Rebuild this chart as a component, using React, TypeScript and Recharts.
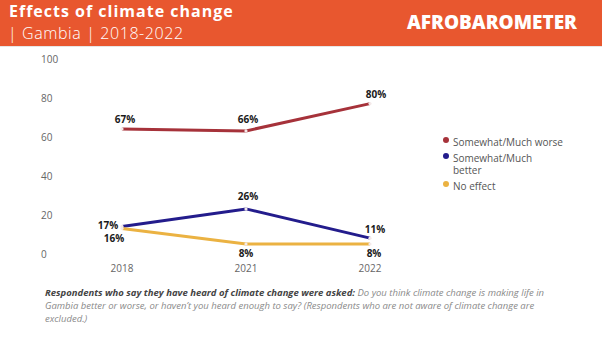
import { LineChart, Line, XAxis, YAxis, Legend, LabelList } from 'recharts';

const years = ['2018', '2021', '2022'];
const worse = [67, 66, 80];
const better = [17, 26, 11];
const noEffect = [16, 8, 8];
const yTicks = [0, 20, 40, 60, 80, 100];

const SERIES = [
  { key: 'worse', name: 'Somewhat/Much worse', color: '#A6323A', values: worse },
  { key: 'better', name: 'Somewhat/Much better', color: '#231C8C', values: better },
  { key: 'noEffect', name: 'No effect', color: '#EBB242', values: noEffect },
];

// label nudges per point (dx, dy) relative to the dot
const LABEL_NUDGE: Record<string, [number, number][]> = {
  worse: [[3, -9], [2, -11], [6, -9]],
  better: [[-14, -1], [2, -12], [5, -9]],
  noEffect: [[-8, 10], [0, 9], [4, 9]],
};

// legend text box width per entry (the "better" entry wraps in the original)
const LEGEND_TEXT_WIDTH: Record<string, number> = { worse: 130, better: 90, noEffect: 130 };

const FONT = "'Open Sans', 'DejaVu Sans', sans-serif";

const chartData = years.map((year, i) => {
  const row: Record<string, string | number> = { year };
  SERIES.forEach((s) => {
    row[s.key] = s.values[i];
  });
  return row;
});

function YTick({ y, payload }: any) {
  return (
    <text x={41} y={y - 5} dy="0.35em" textAnchor="start" fontSize={10} fill="#666" fontFamily={FONT}>
      {payload.value}
    </text>
  );
}

function XTick({ x, payload }: any) {
  return (
    <text x={x} y={268} dy="0.35em" textAnchor="middle" fontSize={10} fill="#666" fontFamily={FONT}>
      {payload.value}
    </text>
  );
}

function makeLabel(seriesKey: string) {
  return function PointLabel(props: any) {
    const { x, y, value, index } = props;
    const [dx, dy] = LABEL_NUDGE[seriesKey][index] ?? [0, -10];
    return (
      <text
        x={x + dx}
        y={y + dy}
        dy="0.35em"
        textAnchor="middle"
        fontSize={10}
        fontWeight={700}
        fill="#1a1a1a"
        fontFamily={FONT}
      >
        {`${value}%`}
      </text>
    );
  };
}

function LegendBox() {
  return (
    <div style={{ fontFamily: FONT, fontSize: 10, color: '#555', width: 150 }}>
      {SERIES.map((s) => (
        <div key={s.key} style={{ display: 'flex', alignItems: 'flex-start', marginBottom: 4, lineHeight: '12px' }}>
          <span
            style={{
              width: 6,
              height: 6,
              borderRadius: 3,
              background: s.color,
              marginTop: 1,
              marginRight: 4,
              flexShrink: 0,
            }}
          />
          <span style={{ width: LEGEND_TEXT_WIDTH[s.key] }}>{s.name}</span>
        </div>
      ))}
    </div>
  );
}

export default function App() {
  return (
    <div
      style={{
        position: 'absolute',
        top: 0,
        left: 0,
        width: 602,
        height: 339,
        background: '#fff',
        overflow: 'hidden',
        fontFamily: FONT,
      }}
    >
      <div
        style={{
          position: 'absolute',
          top: 0,
          left: 0,
          width: 602,
          height: 46,
          background: '#E8572F',
          borderBottom: '1px solid #e6e6e6',
        }}
      >
        <div
          style={{
            position: 'absolute',
            left: 9,
            top: 0,
            color: '#fff',
            fontSize: 16,
            fontWeight: 700,
            lineHeight: '22px',
            letterSpacing: 1,
          }}
        >
          Effects of climate change
        </div>
        <div
          style={{
            position: 'absolute',
            left: 8,
            top: 22,
            color: '#fff',
            fontSize: 16,
            fontWeight: 300,
            lineHeight: '22px',
            letterSpacing: 0.6,
          }}
        >
          | Gambia | 2018-2022
        </div>
        <div
          style={{
            position: 'absolute',
            left: 407,
            top: 11,
            color: '#fff',
            fontSize: 19,
            fontWeight: 800,
            lineHeight: '22px',
          }}
        >
          AFROBAROMETER
        </div>
      </div>

      <div style={{ position: 'absolute', top: 0, left: 0 }}>
        <LineChart
          width={602}
          height={280}
          data={chartData}
          margin={{ top: 64.6, right: 210, bottom: 0.4, left: 40 }}
        >
          <XAxis
            dataKey="year"
            axisLine={false}
            tickLine={false}
            tick={<XTick />}
            padding={{ left: 22, right: 22 }}
            height={20}
          />
          <YAxis
            domain={[0, 100]}
            ticks={yTicks}
            axisLine={false}
            tickLine={false}
            tick={<YTick />}
            width={60}
          />
          <Legend
            layout="vertical"
            align="center"
            verticalAlign="middle"
            content={<LegendBox />}
            wrapperStyle={{ left: 443, top: 136, width: 150, height: 70 }}
          />
          {SERIES.map((s) => (
            <Line
              key={s.key}
              type="linear"
              dataKey={s.key}
              name={s.name}
              stroke={s.color}
              strokeWidth={3}
              dot={{ r: 1.6, fill: '#f3e9e9', stroke: 'none' }}
              activeDot={false}
              isAnimationActive={false}
            >
              <LabelList dataKey={s.key} content={makeLabel(s.key)} />
            </Line>
          ))}
        </LineChart>
      </div>

      <div
        style={{
          position: 'absolute',
          left: 45,
          top: 286,
          width: 540,
          fontSize: 9.5,
          lineHeight: '13px',
          fontStyle: 'italic',
          color: '#8a8a8a',
          whiteSpace: 'nowrap',
        }}
      >
        <span style={{ fontWeight: 700, color: '#444' }}>
          Respondents who say they have heard of climate change were asked:
        </span>{' '}
        Do you think climate change is making life in
        <br />
        Gambia better or worse, or haven’t you heard enough to say? (Respondents who are not aware of climate change are
        <br />
        excluded.)
      </div>
    </div>
  );
}
